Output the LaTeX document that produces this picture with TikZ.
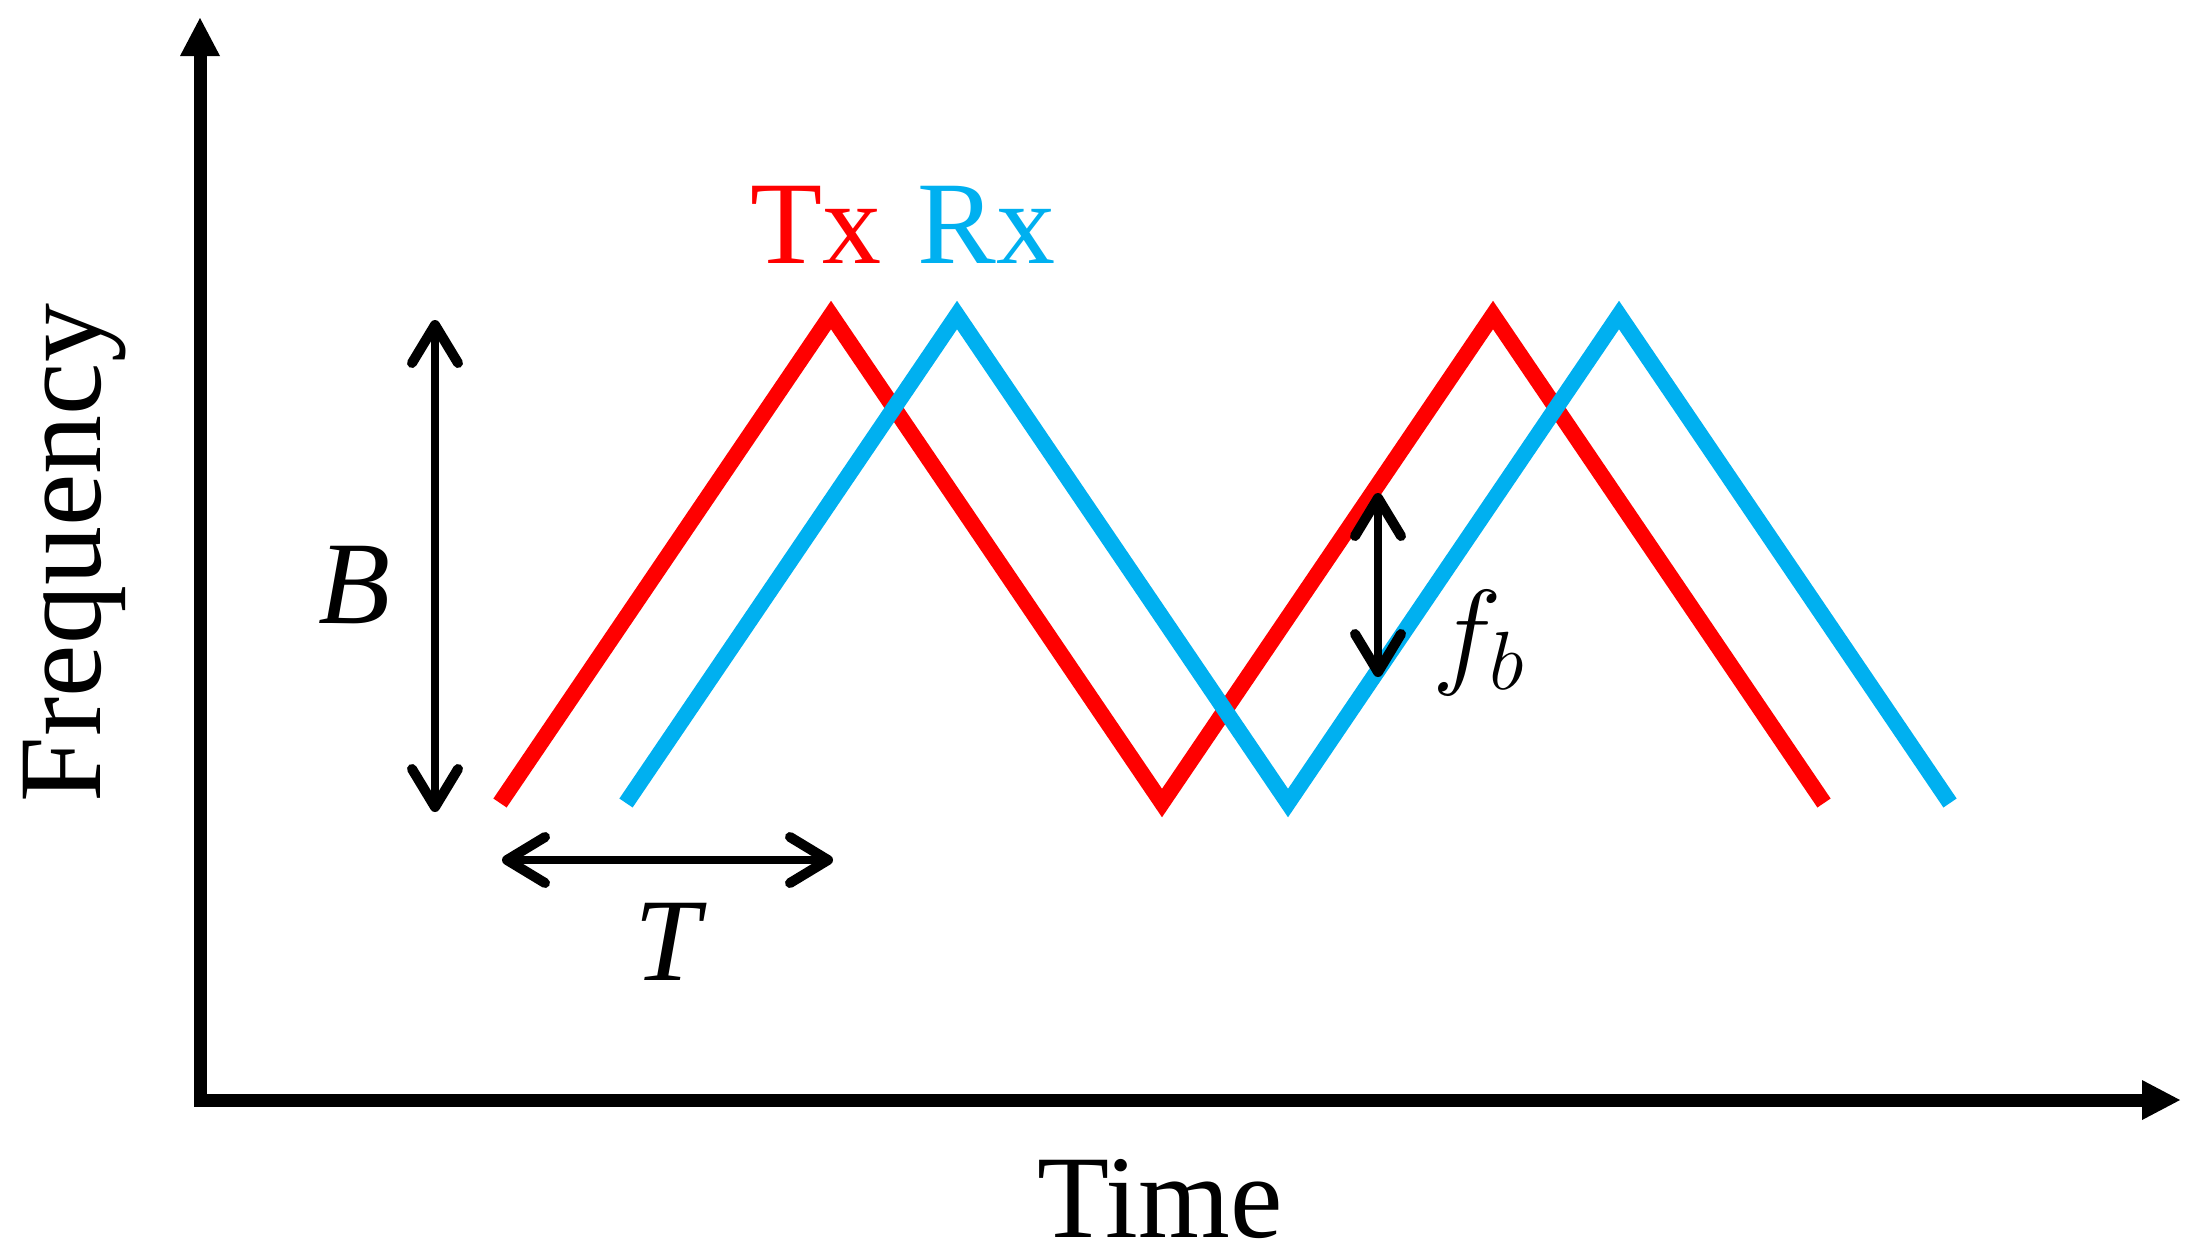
\documentclass[tikz,border=0pt]{standalone}
\usepackage{fix-cm}
\usepackage{fontspec}
\setmainfont{Liberation Serif}
\usetikzlibrary{arrows.meta}
\definecolor{txred}{RGB}{255,0,0}
\definecolor{rxblue}{RGB}{0,176,240}
\begin{document}
\begin{tikzpicture}[x=0.5pt,y=-0.5pt,
  axis/.style={line width=6.5pt, line join=miter,
    {Triangle[length=19pt,width=20pt,line width=0pt]}-{Triangle[length=19pt,width=20pt,line width=0pt]}},
  chirp/.style={line width=8pt, line join=miter, line cap=butt},
  barb/.tip={Straight Barb[length=19pt,width=23pt,line width=5pt,round]},
  dimarrow/.style={line width=3.8pt, barb-barb},
  lbl/.style={inner sep=0pt, font=\fontsize{59}{70}\selectfont}]
\useasboundingbox (0,0) rectangle (2188,1254);
% axes
\coordinate (ytip) at (200,18);
\coordinate (orig) at (200,1100);
\coordinate (xtip) at (2180,1100);
\draw[axis] (ytip) -- (orig) -- (xtip);
% chirps
\coordinate (t0) at (500,803);
\coordinate (t1) at (831,315);
\coordinate (t2) at (1162,803);
\coordinate (t3) at (1493,315);
\coordinate (t4) at (1824,803);
\coordinate (r0) at (626,803);
\coordinate (r1) at (957,315);
\coordinate (r2) at (1288,803);
\coordinate (r3) at (1619,315);
\coordinate (r4) at (1950,803);
\draw[chirp, txred] (t0) -- (t1) -- (t2) -- (t3) -- (t4);
\draw[chirp, rxblue] (r0) -- (r1) -- (r2) -- (r3) -- (r4);
% dimension arrows
\coordinate (btop) at (435,320);
\coordinate (bbot) at (435,812);
\coordinate (tl) at (502,860);
\coordinate (tr) at (833,860);
\coordinate (fbtop) at (1378,493);
\coordinate (fbbot) at (1378,677);
\draw[dimarrow] (btop) -- (bbot);
\draw[dimarrow] (tl) -- (tr);
\draw[dimarrow] (fbtop) -- (fbbot);
% labels
\node[lbl, anchor=base west, text=txred] (txl) at (750,263) {Tx};
\node[lbl, anchor=base west, text=rxblue] (rxl) at (917,263) {Rx};
\node[lbl, anchor=base] (timel) at (1160,1237) {Time};
\node[lbl, anchor=base, rotate=90] (freql) at (100,553) {Frequency};
\node[lbl, anchor=base] (bl) at (355,623) {\itshape B};
\node[lbl, anchor=base] (tlbl) at (667,980) {\itshape T};
\node[lbl, anchor=base] (fbl) at (1479,672) {$f_b$};
\end{tikzpicture}
\end{document}
